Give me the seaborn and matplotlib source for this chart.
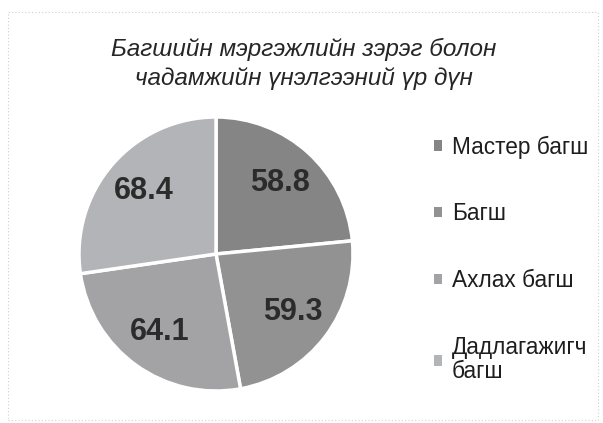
import matplotlib
matplotlib.use('Agg')
import matplotlib.pyplot as plt
import seaborn as sns
from matplotlib.patches import Patch, Rectangle

#------------------------------------------
title = 'Багшийн мэргэжлийн зэрэг болон\nчадамжийн үнэлгээний үр дүн'
categories = ['Мастер багш', 'Багш', 'Ахлах багш', 'Дадлагажигч\nбагш']
values = [58.8, 59.3, 64.1, 68.4]
colors = ['#858585', '#929292', '#a3a3a5', '#b3b4b7']

######################################################
sns.set_theme(style='white')
plt.rcParams['font.family'] = ['Liberation Sans', 'DejaVu Sans']

W, H = 603, 423
fig = plt.figure(figsize=(W/100, H/100), dpi=100)
fig.patch.set_facecolor('white')

# pie axes: center (216, 254) px, radius 137 px
cx, cy, r = 216, 254, 137
ax = fig.add_axes([(cx-r)/W, 1-(cy+r)/H, 2*r/W, 2*r/H])
wedges, texts, autotexts = ax.pie(
    values, colors=colors, startangle=90, counterclock=False,
    autopct='%1.1f', pctdistance=0.7,
    wedgeprops=dict(edgecolor='white', linewidth=2.5))
for t, v in zip(autotexts, values):
    t.set_text(f'{v:.1f}')
    t.set_fontsize(22)
    t.set_fontweight('bold')
    t.set_color('#2b2b2b')
ax.set_xlim(-1.0, 1.0)
ax.set_ylim(-1.0, 1.0)
ax.set_aspect('equal')
ax.axis('off')

#title
fig.text(304/W, 1-64/H, title, ha='center', va='center', fontsize=17.5,
         style='italic', color='#262626', linespacing=1.3)

#legend
handles = [Patch(facecolor=c, edgecolor='none') for c in colors]
leg = fig.legend(handles, categories, loc='upper left', bbox_to_anchor=(414/W, 1-115/H),
                 frameon=False, fontsize=16.3, labelspacing=1.93, handlelength=0.32,
                 handleheight=0.32, handletextpad=0.45, labelcolor='#1e1e1e')
for t in leg.get_texts():
    t.set_linespacing(1.1)

#border
fig.patches.append(Rectangle((8/W, 3/H), 590/W, 408/H, transform=fig.transFigure,
                             fill=False, edgecolor='#d0d0d0', linewidth=0.8,
                             linestyle=(0, (1, 2))))

plt.savefig('out.png', dpi=100)
plt.close()
